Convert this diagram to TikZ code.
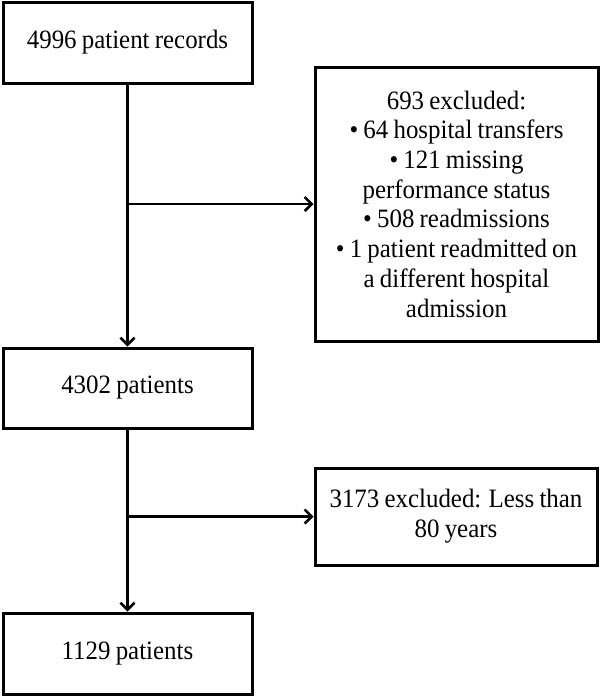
\documentclass[tikz,border=0pt]{standalone}
\usepackage{fontspec}
\setmainfont{Liberation Serif}[FakeStretch=0.94]
\usetikzlibrary{arrows.meta}
\newcommand\myboxfont{\fontsize{26.5}{29.7}\selectfont\spaceskip=5.2pt plus 2pt minus 1pt\relax}
\begin{document}
\begin{tikzpicture}[x=1pt,y=-1pt,
  box/.style={draw,line width=3pt,inner sep=0pt,align=center,font=\myboxfont},
  conn/.style={line width=2.6pt,-{Straight Barb[length=7pt,width=14pt,line width=2.6pt]}}]
\useasboundingbox (0,0) rectangle (600,697);
\node[box,minimum width=249pt,minimum height=81pt] (a) at (127.5,42.5) {4996 patient records};
\node[box,minimum width=283pt,minimum height=274pt] (b) at (456.5,204) {693 excluded:\\• 64 hospital transfers\\• 121 missing\\performance status\\• 508 readmissions\\• 1 patient readmitted on\\a different hospital\\admission};
\node[box,minimum width=249pt,minimum height=80pt] (c) at (127.5,388) {4302 patients};
\node[box,minimum width=282pt,minimum height=97pt] (d) at (456,516.5) {3173 excluded: Less than\\80 years};
\node[box,minimum width=249pt,minimum height=81pt] (e) at (127.5,653.5) {1129 patients};
\coordinate (j1) at (a.south |- b.west);
\coordinate (j2) at (c.south |- d.west);
\draw[conn] (a.south) -- (c.north);
\draw[conn] (j1) -- (b.west);
\draw[conn] (c.south) -- (e.north);
\draw[conn] (j2) -- (d.west);
\end{tikzpicture}
\end{document}
